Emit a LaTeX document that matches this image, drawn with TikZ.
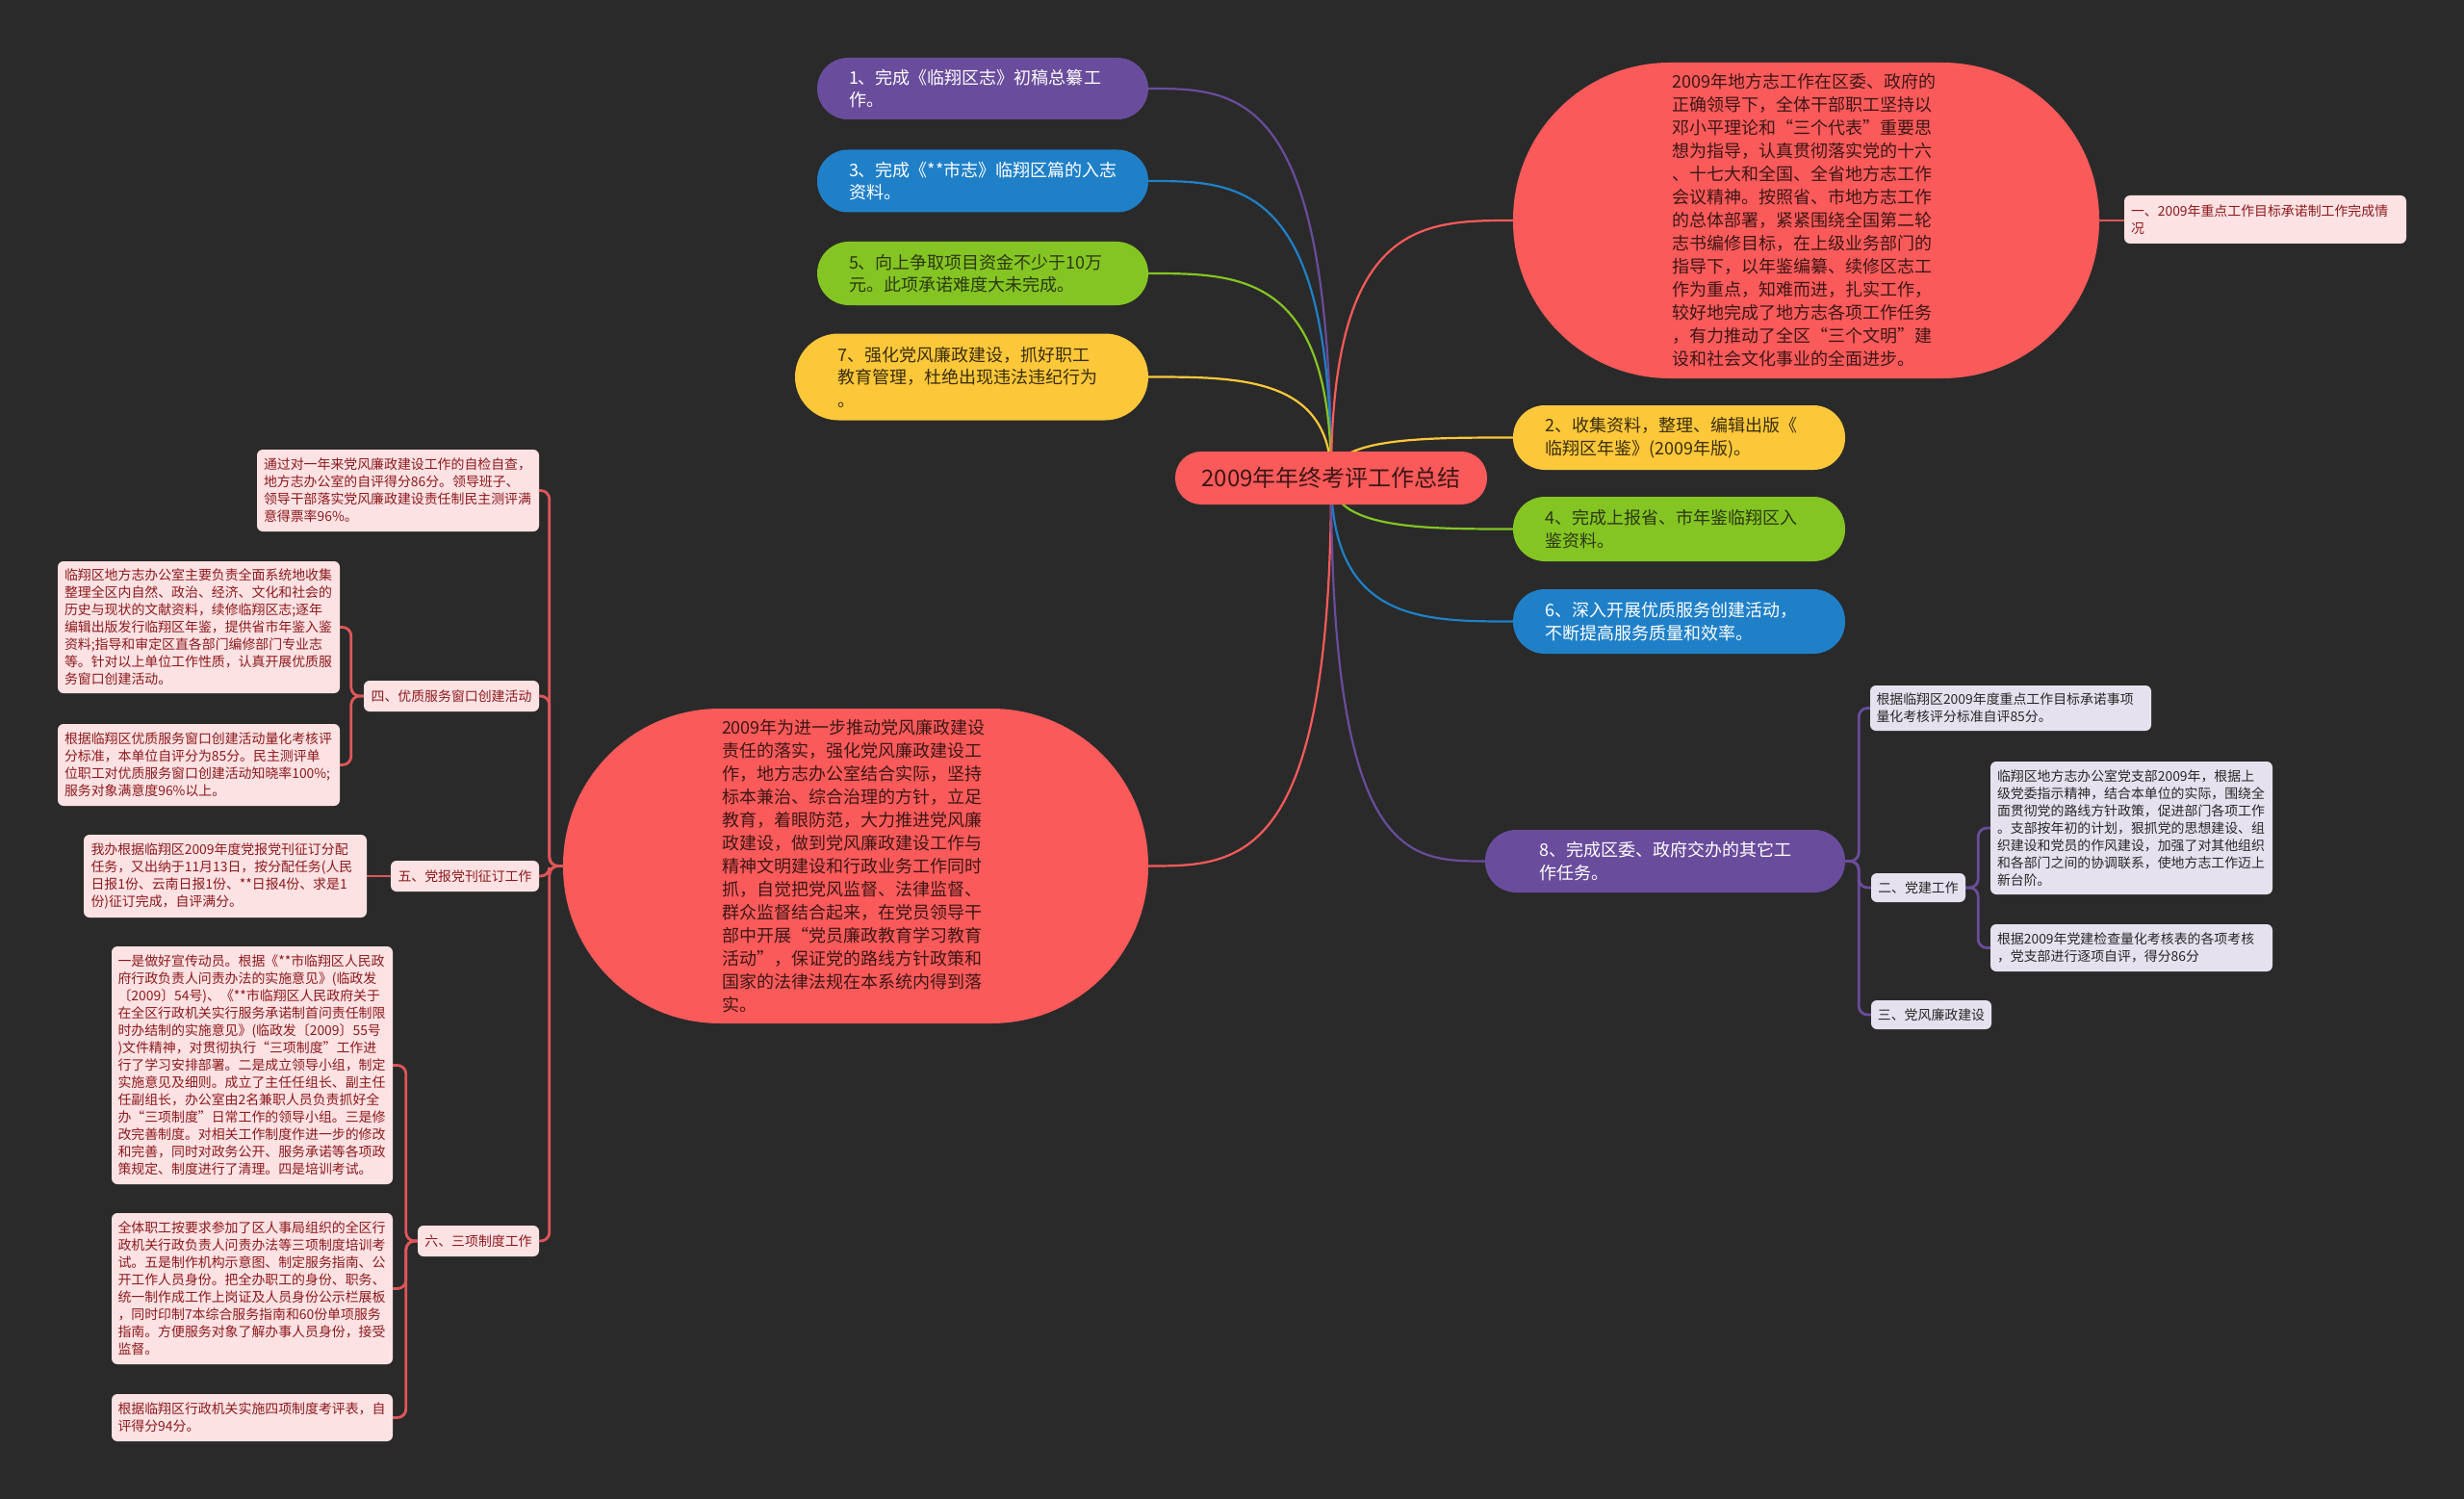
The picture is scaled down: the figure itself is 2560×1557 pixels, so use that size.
\documentclass[tikz,border=0pt]{standalone}
\usepackage{fontspec}
\setmainfont{Noto Sans CJK SC}
\usetikzlibrary{calc,backgrounds}
\definecolor{bgc}{RGB}{42,42,42}
\definecolor{cpurple}{RGB}{106,76,156}
\definecolor{cblue}{RGB}{31,128,200}
\definecolor{cgreen}{RGB}{132,197,35}
\definecolor{cyellow}{RGB}{252,200,58}
\definecolor{cred}{RGB}{250,90,90}
\definecolor{credline}{RGB}{222,86,90}
\definecolor{pinkfill}{RGB}{253,226,227}
\definecolor{pinktext}{RGB}{140,26,30}
\definecolor{lavfill}{RGB}{229,225,238}
\definecolor{lavtext}{RGB}{40,40,40}
\definecolor{darktext}{RGB}{62,22,22}
\definecolor{gtext}{RGB}{44,56,18}
\definecolor{ytext}{RGB}{58,46,16}
\tikzset{
  prim/.style={rectangle, inner sep=0pt, align=left, text width=278pt, font=\fontsize{18}{23.5}\selectfont},
  bigred/.style={rectangle, fill=cred, text=darktext, inner sep=0pt, align=left, text width=278pt, font=\fontsize{18}{24}\selectfont},
  leafp/.style={rectangle, rounded corners=6pt, fill=pinkfill, text=pinktext, inner sep=0pt, align=left, text width=279pt, font=\fontsize{13.9}{18}\selectfont},
  labp/.style={rectangle, rounded corners=6pt, fill=pinkfill, text=pinktext, inner sep=0pt, align=center, font=\fontsize{13.9}{18}\selectfont},
  leafl/.style={rectangle, rounded corners=6pt, fill=lavfill, text=lavtext, inner sep=0pt, align=left, text width=279pt, font=\fontsize{13.9}{18}\selectfont},
  labl/.style={rectangle, rounded corners=6pt, fill=lavfill, text=lavtext, inner sep=0pt, align=center, font=\fontsize{13.9}{18}\selectfont},
  conn/.style={line width=2.2pt},
  subconn/.style={line width=2.8pt, rounded corners=9pt},
}
\newcommand{\cconnL}[2]{\draw[conn,#1] (c.center) .. controls (c.center |- #2.east) and ($(c.center |- #2.east)!0.5!(#2.east)$) .. (#2.east);}
\newcommand{\cconnR}[2]{\draw[conn,#1] (c.center) .. controls (c.center |- #2.west) and ($(c.center |- #2.west)!0.5!(#2.west)$) .. (#2.west);}
\begin{document}
\begin{tikzpicture}[x=1pt,y=-1pt]
% central
\node[rectangle, fill=cred, text=darktext, inner sep=0pt, minimum width=324pt, minimum height=55pt, rounded corners=27pt, font=\fontsize{24}{28}\selectfont] (c) at (1383,496.5) {2009年年终考评工作总结};
% left primary
\node[prim, fill=cpurple, text=white, minimum width=344pt, minimum height=64pt, rounded corners=32pt] (n1) at (1021,92) {1、完成《临翔区志》初稿总纂工\\作。};
\node[prim, fill=cblue, text=white, minimum width=344pt, minimum height=65pt, rounded corners=32pt] (n3) at (1021,188) {3、完成《**市志》临翔区篇的入志\\资料。};
\node[prim, fill=cgreen, text=gtext, minimum width=344pt, minimum height=66pt, rounded corners=33pt] (n5) at (1021,284) {5、向上争取项目资金不少于10万\\元。此项承诺难度大未完成。};
\node[prim, fill=cyellow, text=ytext, minimum width=367pt, minimum height=90pt, rounded corners=45pt] (n7) at (1009.5,391.5) {7、强化党风廉政建设，抓好职工\\教育管理，杜绝出现违法违纪行为\\。};
% right primary
\node[prim, fill=cyellow, text=ytext, minimum width=345pt, minimum height=67pt, rounded corners=33pt] (n2) at (1744.5,454.5) {2、收集资料，整理、编辑出版《\\临翔区年鉴》(2009年版)。};
\node[prim, fill=cgreen, text=gtext, minimum width=345pt, minimum height=67pt, rounded corners=33pt] (n4) at (1744.5,549.5) {4、完成上报省、市年鉴临翔区入\\鉴资料。};
\node[prim, fill=cblue, text=white, minimum width=345pt, minimum height=67pt, rounded corners=33pt] (n6) at (1744.5,645.5) {6、深入开展优质服务创建活动，\\不断提高服务质量和效率。};
\node[prim, fill=cpurple, text=white, text width=262pt, minimum width=374pt, minimum height=65pt, rounded corners=32pt] (n8) at (1730,894.5) {8、完成区委、政府交办的其它工\\作任务。};
% big right red
\node[bigred, minimum width=609pt, minimum height=328pt, rounded corners=163pt] (R) at (1876.5,229) {2009年地方志工作在区委、政府的\\正确领导下，全体干部职工坚持以\\邓小平理论和“三个代表”重要思\\想为指导，认真贯彻落实党的十六\\、十七大和全国、全省地方志工作\\会议精神。按照省、市地方志工作\\的总体部署，紧紧围绕全国第二轮\\志书编修目标，在上级业务部门的\\指导下，以年鉴编纂、续修区志工\\作为重点，知难而进，扎实工作，\\较好地完成了地方志各项工作任务\\，有力推动了全区“三个文明”建\\设和社会文化事业的全面进步。};
\node[leafp, minimum width=293pt, minimum height=50pt] (R1) at (2353.5,228) {一、2009年重点工作目标承诺制工作完成情\\况};
% big left red
\node[bigred, minimum width=608pt, minimum height=327pt, rounded corners=163pt] (L) at (889,899.5) {2009年为进一步推动党风廉政建设\\责任的落实，强化党风廉政建设工\\作，地方志办公室结合实际，坚持\\标本兼治、综合治理的方针，立足\\教育，着眼防范，大力推进党风廉\\政建设，做到党风廉政建设工作与\\精神文明建设和行政业务工作同时\\抓，自觉把党风监督、法律监督、\\群众监督结合起来，在党员领导干\\部中开展“党员廉政教育学习教育\\活动”，保证党的路线方针政策和\\国家的法律法规在本系统内得到落\\实。};
\node[leafp, minimum width=293pt, minimum height=85pt] (LA) at (413.5,509.5) {通过对一年来党风廉政建设工作的自检自查，\\地方志办公室的自评得分86分。领导班子、\\领导干部落实党风廉政建设责任制民主测评满\\意得票率96\%。};
\node[labp, minimum width=182pt, minimum height=32pt] (L4) at (469,723) {四、优质服务窗口创建活动};
\node[leafp, minimum width=293pt, minimum height=137pt] (L4a) at (206.5,651.5) {临翔区地方志办公室主要负责全面系统地收集\\整理全区内自然、政治、经济、文化和社会的\\历史与现状的文献资料，续修临翔区志;逐年\\编辑出版发行临翔区年鉴，提供省市年鉴入鉴\\资料;指导和审定区直各部门编修部门专业志\\等。针对以上单位工作性质，认真开展优质服\\务窗口创建活动。};
\node[leafp, minimum width=293pt, minimum height=85pt] (L4b) at (206.5,794.5) {根据临翔区优质服务窗口创建活动量化考核评\\分标准，本单位自评分为85分。民主测评单\\位职工对优质服务窗口创建活动知晓率100\%;\\服务对象满意度96\%以上。};
\node[labp, minimum width=154pt, minimum height=32pt] (L5) at (483,910) {五、党报党刊征订工作};
\node[leafp, minimum width=294pt, minimum height=86pt] (L5a) at (234,910) {我办根据临翔区2009年度党报党刊征订分配\\任务，又出纳于11月13日，按分配任务(人民\\日报1份、云南日报1份、**日报4份、求是1\\份)征订完成，自评满分。};
\node[labp, minimum width=126pt, minimum height=32pt] (L6) at (497,1289) {六、三项制度工作};
\node[leafp, minimum width=292pt, minimum height=247pt] (L6a) at (262,1106.5) {一是做好宣传动员。根据《**市临翔区人民政\\府行政负责人问责办法的实施意见》(临政发\\〔2009〕54号)、《**市临翔区人民政府关于\\在全区行政机关实行服务承诺制首问责任制限\\时办结制的实施意见》(临政发〔2009〕55号\\)文件精神，对贯彻执行“三项制度”工作进\\行了学习安排部署。二是成立领导小组，制定\\实施意见及细则。成立了主任任组长、副主任\\任副组长，办公室由2名兼职人员负责抓好全\\办“三项制度”日常工作的领导小组。三是修\\改完善制度。对相关工作制度作进一步的修改\\和完善，同时对政务公开、服务承诺等各项政\\策规定、制度进行了清理。四是培训考试。};
\node[leafp, minimum width=292pt, minimum height=157pt] (L6b) at (262,1338.5) {全体职工按要求参加了区人事局组织的全区行\\政机关行政负责人问责办法等三项制度培训考\\试。五是制作机构示意图、制定服务指南、公\\开工作人员身份。把全办职工的身份、职务、\\统一制作成工作上岗证及人员身份公示栏展板\\，同时印制7本综合服务指南和60份单项服务\\指南。方便服务对象了解办事人员身份，接受\\监督。};
\node[leafp, minimum width=292pt, minimum height=49pt] (L6c) at (262,1472.5) {根据临翔区行政机关实施四项制度考评表，自\\评得分94分。};
% node 8 subtree
\node[leafl, minimum width=292pt, minimum height=47pt] (R8a) at (2089,735.5) {根据临翔区2009年度重点工作目标承诺事项\\量化考核评分标准自评85分。};
\node[labl, minimum width=98pt, minimum height=30pt] (R8b) at (1993,922) {二、党建工作};
\node[labl, minimum width=125pt, minimum height=30pt] (R8c) at (2006.5,1054) {三、党风廉政建设};
\node[leafl, minimum width=293pt, minimum height=138pt] (R8b1) at (2214.5,860) {临翔区地方志办公室党支部2009年，根据上\\级党委指示精神，结合本单位的实际，围绕全\\面贯彻党的路线方针政策，促进部门各项工作\\。支部按年初的计划，狠抓党的思想建设、组\\织建设和党员的作风建设，加强了对其他组织\\和各部门之间的协调联系，使地方志工作迈上\\新台阶。};
\node[leafl, minimum width=293pt, minimum height=49pt] (R8b2) at (2214.5,984.5) {根据2009年党建检查量化考核表的各项考核\\，党支部进行逐项自评，得分86分};
% connectors
\begin{scope}[on background layer]
\fill[bgc] (0,0) rectangle (2560,1557);
\cconnL{cpurple}{n1}
\cconnL{cblue}{n3}
\cconnL{cgreen}{n5}
\cconnL{cyellow}{n7}
\cconnL{cred}{L}
\cconnR{cred}{R}
\cconnR{cyellow}{n2}
\cconnR{cgreen}{n4}
\cconnR{cblue}{n6}
\cconnR{cpurple}{n8}
\draw[subconn, credline] (R.east) -- (R.east -| R1.west);
\foreach \ch in {LA,L4,L5,L6} \draw[subconn, credline] (L.west) -- ++(-14,0) |- (\ch.east);
\foreach \ch in {L4a,L4b} \draw[subconn, credline] (L4.west) -- ++(-13,0) |- (\ch.east);
\draw[subconn, credline] (L5.west) -- (L5a.east);
\foreach \ch in {L6a,L6b,L6c} \draw[subconn, credline] (L6.west) -- ++(-12,0) |- (\ch.east);
\foreach \ch in {R8a,R8b,R8c} \draw[subconn, cpurple] (n8.east) -- ++(14,0) |- (\ch.west);
\foreach \ch in {R8b1,R8b2} \draw[subconn, cpurple] (R8b.east) -- ++(13,0) |- (\ch.west);
\end{scope}
\end{tikzpicture}
\end{document}
